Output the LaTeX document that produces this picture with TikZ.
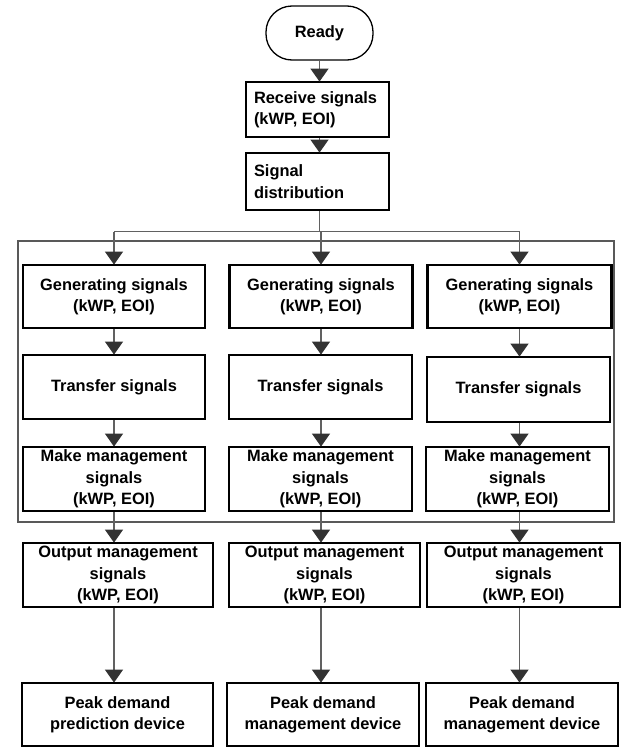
\documentclass[tikz,border=0pt]{standalone}
\usepackage{fontspec}
\setmainfont{Liberation Sans}
\usepackage{tikz}
\usetikzlibrary{positioning,calc,arrows.meta}

\begin{document}
\begin{tikzpicture}[x=1pt,y=-1pt,
  box/.style={draw,line width=2.8pt,align=center,inner sep=2pt,
    font=\bfseries\fontsize{16.4}{21.3}\selectfont},
  leftbox/.style={box,align=flush left,text width=127pt,inner xsep=8pt,minimum height=55pt},
  startbox/.style={box,rounded corners=26pt,minimum width=107pt,minimum height=54pt,line width=1.3pt},
  link/.style={draw=black!62,line width=1.3pt},
  arr/.style={link,-{Triangle[width=18pt,length=13pt,color=black!80,fill=black!80]},shorten >=-1pt},
  frame/.style={draw=black!65,line width=1.4pt}]
\useasboundingbox (0,0) rectangle (621,747);

% Top part
\node[startbox] (ready) at (319.5,33) {Ready};
\node[leftbox] (recv) at (317.5,109.5) {Receive signals\\(kWP, EOI)};
\node[leftbox,minimum height=57pt] (dist) at (317.5,181.5) {Signal\\distribution};
\coordinate (split) at (319.5,231.5);

% Frame round the three branches
\draw[frame] (18,241) rectangle (614,522);

% Column 1
\node[box,minimum width=182pt,minimum height=63pt] (gen1) at (114,296.5) {Generating signals\\(kWP, EOI)};
\node[box,minimum width=182pt,minimum height=64pt] (tra1) at (114,387) {Transfer signals};
\node[box,minimum width=182pt,minimum height=64pt] (mak1) at (114,479) {Make management\\signals\\(kWP, EOI)};
\node[box,minimum width=190pt,minimum height=64pt] (out1) at (118,575) {Output management\\signals\\(kWP, EOI)};
\node[box,minimum width=191pt,minimum height=63pt] (peak1) at (117.5,714.5) {Peak demand\\prediction device};

% Column 2
\node[box,minimum width=183pt,minimum height=63pt] (gen2) at (321,296.5) {Generating signals\\(kWP, EOI)};
\node[box,minimum width=183pt,minimum height=64pt] (tra2) at (320.5,387) {Transfer signals};
\node[box,minimum width=183pt,minimum height=64pt] (mak2) at (320.5,479) {Make management\\signals\\(kWP, EOI)};
\node[box,minimum width=191pt,minimum height=64pt] (out2) at (324.5,575) {Output management\\signals\\(kWP, EOI)};
\node[box,minimum width=192pt,minimum height=63pt] (peak2) at (323,714.5) {Peak demand\\management device};

% Column 3
\node[box,minimum width=184pt,minimum height=63pt] (gen3) at (519.5,296.5) {Generating signals\\(kWP, EOI)};
\node[box,minimum width=183pt,minimum height=65pt] (tra3) at (518.5,389.5) {Transfer signals};
\node[box,minimum width=183pt,minimum height=64pt] (mak3) at (517.5,479) {Make management\\signals\\(kWP, EOI)};
\node[box,minimum width=193pt,minimum height=64pt] (out3) at (523.5,575) {Output management\\signals\\(kWP, EOI)};
\node[box,minimum width=192pt,minimum height=63pt] (peak3) at (522,714.5) {Peak demand\\management device};

% Connectors
\draw[arr] (ready) -- (ready |- recv.north);
\draw[arr] (recv.south -| ready) -- (ready |- dist.north);
\draw[link] (dist.south -| split) -- (split);
\draw[link] (gen1 |- split) -- (gen3 |- split);
\foreach \c in {1,2,3} {
  \draw[arr] (gen\c |- split) -- (gen\c);
  \draw[arr] (gen\c.south) -- (gen\c.south |- tra\c.north);
  \draw[arr] (tra\c.south -| gen\c) -- (gen\c |- mak\c.north);
  \draw[arr] (mak\c.south -| gen\c) -- (gen\c |- out\c.north);
  \draw[arr] (out\c.south -| gen\c) -- (gen\c |- peak\c.north);
}
\end{tikzpicture}
\end{document}
